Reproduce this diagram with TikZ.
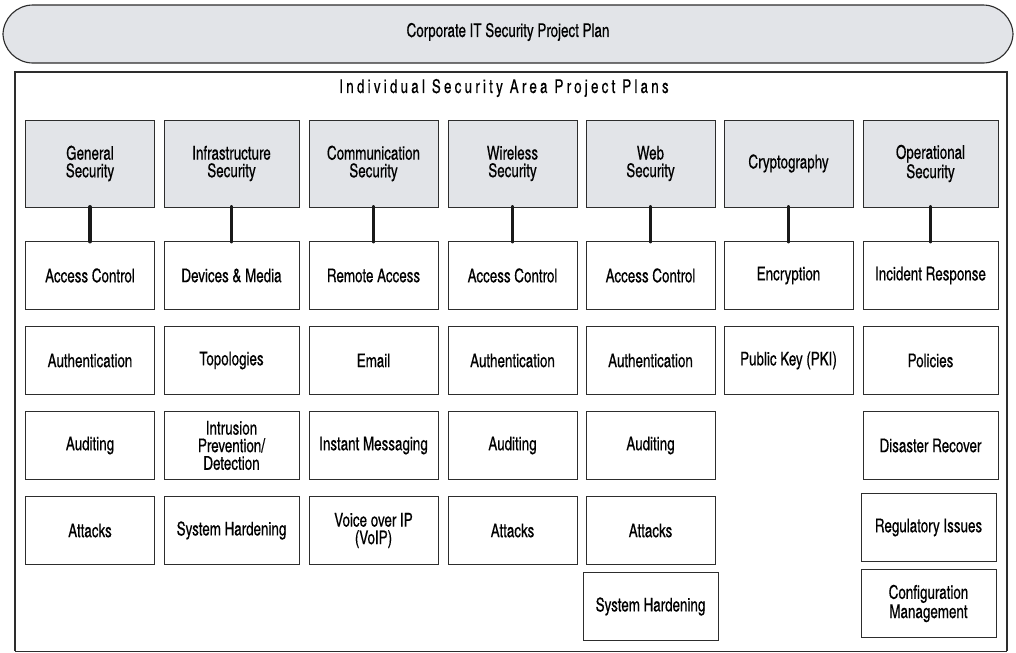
\documentclass[tikz,border=0pt]{standalone}
\usepackage{fontspec}
\setmainfont{texgyreheroscn}[Extension=.otf, UprightFont=*-regular, BoldFont=*-bold, FakeStretch=0.86, FakeBold=0.4]
\usepackage{tikz}
\usetikzlibrary{positioning}
\usepackage{xcolor}
\definecolor{planfill}{RGB}{226,228,232}
\definecolor{planline}{RGB}{45,45,45}
\definecolor{linkdark}{RGB}{25,25,25}

\begin{document}
\begin{tikzpicture}[
    planbanner/.style={draw=planline, fill=planfill, line width=0.8pt,
        rounded corners=0.75cm},
    areahead/.style={rectangle, draw=planline, fill=planfill, line width=0.6pt,
        minimum width=3.225cm, minimum height=2.175cm, outer sep=0pt,
        align=center, font=\fontsize{13.5}{12.5}\selectfont},
    areaitem/.style={rectangle, draw=planline, fill=white, line width=0.6pt,
        minimum width=3.225cm, minimum height=1.7cm, outer sep=0pt,
        align=center, font=\fontsize{13.5}{12.5}\selectfont},
    wide/.style={minimum width=3.375cm},
    link/.style={draw=linkdark, line width=2.8pt, line cap=round},
    node distance=0.425cm
]
\useasboundingbox (0,0) rectangle (25.4,-16.3);

% corporate plan banner
\draw[planbanner] (0.075,-0.125) rectangle (25.325,-1.575);
\node[font=\fontsize{13.5}{14}\selectfont] (corp) at (12.7,-0.8) {Corporate IT Security Project Plan};

% frame round the area plans
\draw[planline, line width=0.6pt] (0.375,-16.275) -- (25.175,-16.275);
\draw[planline, line width=2pt] (0.375,-16.275) -- (0.375,-1.8) -- (25.175,-1.8) -- (25.175,-16.275);
\node[font=\fontsize{13.5}{14}\selectfont\addfontfeature{LetterSpace=17}] (areas) at (12.6,-2.2)
    {Individual Security Area Project Plans};

% security areas
\node[areahead] (gen) at (2.25,-4.0875) {General\\Security};
\node[areahead, wide] (inf) at (5.7875,-4.0875) {Infrastructure\\Security};
\node[areahead] (com) at (9.3375,-4.0875) {Communication\\Security};
\node[areahead] (wir) at (12.8125,-4.0875) {Wireless\\Security};
\node[areahead] (web) at (16.2625,-4.0875) {Web\\Security};
\node[areahead] (cry) at (19.7125,-4.0875) {Cryptography};
\node[areahead, wide] (ops) at (23.2625,-4.0875) {Operational\\Security};

% general security
\node[areaitem, below=0.8625cm of gen] (gen1) {Access Control};
\node[areaitem, below=of gen1] (gen2) {Authentication};
\node[areaitem, below=of gen2] (gen3) {Auditing};
\node[areaitem, below=of gen3] (gen4) {Attacks};

% infrastructure security
\node[areaitem, wide, below=0.8625cm of inf] (inf1) {Devices \& Media};
\node[areaitem, wide, below=of inf1] (inf2) {Topologies};
\node[areaitem, wide, below=of inf2] (inf3) {Intrusion\\Prevention/\\Detection};
\node[areaitem, wide, below=of inf3] (inf4) {System Hardening};

% communication security
\node[areaitem, below=0.8625cm of com] (com1) {Remote Access};
\node[areaitem, below=of com1] (com2) {Email};
\node[areaitem, below=of com2] (com3) {Instant Messaging};
\node[areaitem, below=of com3] (com4) {Voice over IP\\(VoIP)};

% wireless security
\node[areaitem, below=0.8625cm of wir] (wir1) {Access Control};
\node[areaitem, below=of wir1] (wir2) {Authentication};
\node[areaitem, below=of wir2] (wir3) {Auditing};
\node[areaitem, below=of wir3] (wir4) {Attacks};

% web security
\node[areaitem, below=0.8625cm of web] (web1) {Access Control};
\node[areaitem, below=of web1] (web2) {Authentication};
\node[areaitem, below=of web2] (web3) {Auditing};
\node[areaitem, below=of web3] (web4) {Attacks};
\node[areaitem, minimum width=3.375cm, below right=0.2cm and -3.3cm of web4] (web5) {System Hardening};

% cryptography
\node[areaitem, below=0.8625cm of cry] (cry1) {Encryption};
\node[areaitem, below=of cry1] (cry2) {Public Key (PKI)};

% operational security
\node[areaitem, wide, below=0.8625cm of ops] (ops1) {Incident Response};
\node[areaitem, wide, below=of ops1] (ops2) {Policies};
\node[areaitem, wide, below=of ops2] (ops3) {Disaster Recover};
\node[areaitem, wide, below=0.35cm of ops3, xshift=-0.05cm] (ops4) {Regulatory Issues};
\node[areaitem, wide, below=0.2cm of ops4] (ops5) {Configuration\\Management};

% links from area to first topic
\draw[link] (gen.south) -- (gen1.north);
\draw[link] (inf.south) -- (inf1.north);
\draw[link] (com.south) -- (com1.north);
\draw[link] (wir.south) -- (wir1.north);
\draw[link] (web.south) -- (web1.north);
\draw[link] (cry.south) -- (cry1.north);
\draw[link] (ops.south) -- (ops1.north);
\end{tikzpicture}
\end{document}
